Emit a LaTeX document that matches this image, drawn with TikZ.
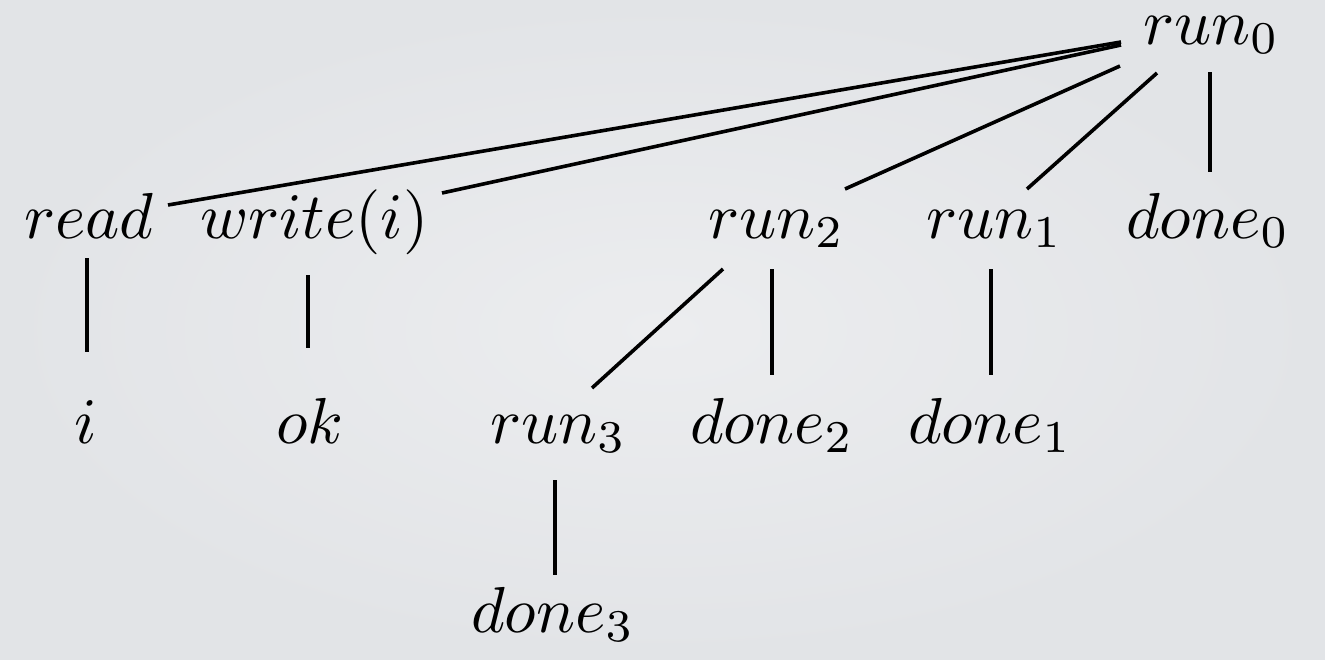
\documentclass[tikz,border=0pt]{standalone}
\newcommand{\BM}[1]{\scalebox{6.5}{$#1$}}
\begin{document}
\begin{tikzpicture}[x=1pt,y=-1pt,
  lbl/.style={anchor=base west,inner sep=0pt,outer sep=0pt},
  edge/.style={line width=3.6pt,black}]
\useasboundingbox (0,0) rectangle (1325,659);
\fill[inner color={rgb,255:red,236;green,237;blue,239},outer color={rgb,255:red,226;green,228;blue,231}] (0,0) rectangle (1325,659);
% nodes
\node[lbl] (run0) at (1143,44) {\BM{run_0}};
\node[lbl] (read) at (24,238) {\BM{read}};
\node[lbl] (write) at (200,238) {\BM{write(i)}};
\node[lbl] (run2) at (708,238) {\BM{run_2}};
\node[lbl] (run1) at (926,238) {\BM{run_1}};
\node[lbl] (done0) at (1126,238) {\BM{done_0}};
\node[lbl] (i) at (74,443) {\BM{i}};
\node[lbl] (ok) at (276,443) {\BM{ok}};
\node[lbl] (run3) at (490,443) {\BM{run_3}};
\node[lbl] (done2) at (690,443) {\BM{done_2}};
\node[lbl] (done1) at (908,443) {\BM{done_1}};
\node[lbl] (done3) at (471,632) {\BM{done_3}};
% edges
\draw[edge] ([shift={(-22,-2)}]run0.base west) -- ([shift={(144,-33)}]read.base west);
\draw[edge] ([shift={(-22,1)}]run0.base west) -- ([shift={(242,-45)}]write.base west);
\draw[edge] ([shift={(-23,22)}]run0.base west) -- ([shift={(137,-49)}]run2.base west);
\draw[edge] ([shift={(14,29)}]run0.base west) -- ([shift={(101,-49)}]run1.base west);
\draw[edge] ([shift={(67,28)}]run0.base west) -- ([shift={(84,-66)}]done0.base west);
\draw[edge] ([shift={(63,20)}]read.base west) -- ([shift={(13,-91)}]i.base west);
\draw[edge] ([shift={(108,37)}]write.base west) -- ([shift={(32,-95)}]ok.base west);
\draw[edge] ([shift={(15,31)}]run2.base west) -- ([shift={(102,-55)}]run3.base west);
\draw[edge] ([shift={(64,31)}]run2.base west) -- ([shift={(82,-68)}]done2.base west);
\draw[edge] ([shift={(65,31)}]run1.base west) -- ([shift={(83,-68)}]done1.base west);
\draw[edge] ([shift={(65,37)}]run3.base west) -- ([shift={(84,-57)}]done3.base west);
\end{tikzpicture}
\end{document}
